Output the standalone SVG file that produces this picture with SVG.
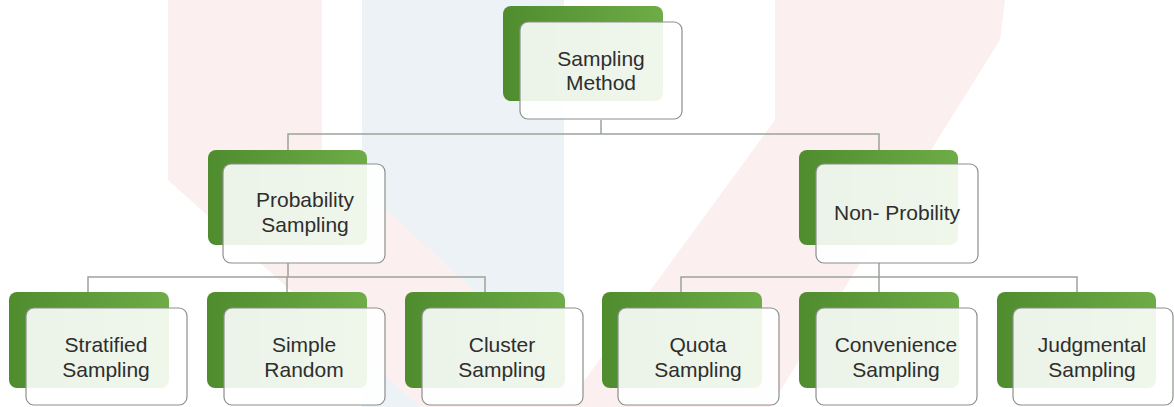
<svg xmlns="http://www.w3.org/2000/svg" width="1174" height="407" viewBox="0 0 1174 407">
<defs>
<linearGradient id="g" x1="0" y1="0" x2="1" y2="0">
<stop offset="0" stop-color="#4f8c2e"/>
<stop offset="1" stop-color="#6eac47"/>
</linearGradient>
</defs>
<style>
.back{fill:url(#g);}
.front{fill:#ffffff;fill-opacity:0.89;stroke:#8c8f8c;stroke-width:1.2;}
.t{font-family:"Liberation Sans",Arial,sans-serif;font-size:21px;fill:#2e2e2e;text-anchor:middle;}
.c{fill:none;stroke:#9aa49a;stroke-width:1.5;}
</style>
<g id="watermark">
<rect x="0" y="0" width="1174" height="407" fill="#ffffff"/>
<rect x="362" y="0" width="202" height="407" fill="#edf2f6"/>
<path d="M168,0 H322 V150 L600,407 H420 L168,180 Z" fill="#fcefef"/>
<path d="M775,0 H1005 L1000,40 L770,407 H565 L775,120 Z" fill="#fcefef"/>
</g>
<g id="connectors">
<path class="c" d="M601,120 V134 M288,150 V134 H879 V150"/>
<path class="c" d="M288,263 V277 M88,292 V277 H485 V292 M287,277 V292"/>
<path class="c" d="M879,263 V277 M681,292 V277 H1077 V292 M879,277 V292"/>
</g>
<g id="n-root">
<rect class="back" x="503" y="6" width="160" height="95" rx="8"/>
<rect class="front" x="520" y="22" width="162" height="97" rx="8"/>
<text class="t" x="601" y="66">Sampling</text>
<text class="t" x="601" y="90">Method</text>
</g>
<g id="n-prob">
<rect class="back" x="208" y="150" width="159" height="95" rx="8"/>
<rect class="front" x="223" y="164" width="162" height="99" rx="8"/>
<text class="t" x="305" y="207">Probability</text>
<text class="t" x="305" y="232">Sampling</text>
</g>
<g id="n-nonprob">
<rect class="back" x="799" y="150" width="159" height="95" rx="8"/>
<rect class="front" x="816" y="164" width="162" height="99" rx="8"/>
<text class="t" x="897" y="220">Non- Probility</text>
</g>
<g id="n-strat">
<rect class="back" x="9" y="292" width="160" height="96" rx="8"/>
<rect class="front" x="26" y="308" width="161" height="97" rx="8"/>
<text class="t" x="106" y="352">Stratified</text>
<text class="t" x="106" y="377">Sampling</text>
</g>
<g id="n-simple">
<rect class="back" x="207" y="292" width="160" height="96" rx="8"/>
<rect class="front" x="224" y="308" width="161" height="97" rx="8"/>
<text class="t" x="304" y="352">Simple</text>
<text class="t" x="304" y="377">Random</text>
</g>
<g id="n-cluster">
<rect class="back" x="405" y="292" width="160" height="96" rx="8"/>
<rect class="front" x="422" y="308" width="161" height="97" rx="8"/>
<text class="t" x="502" y="352">Cluster</text>
<text class="t" x="502" y="377">Sampling</text>
</g>
<g id="n-quota">
<rect class="back" x="602" y="292" width="160" height="96" rx="8"/>
<rect class="front" x="618" y="308" width="161" height="97" rx="8"/>
<text class="t" x="698" y="352">Quota</text>
<text class="t" x="698" y="377">Sampling</text>
</g>
<g id="n-conv">
<rect class="back" x="799" y="292" width="160" height="96" rx="8"/>
<rect class="front" x="816" y="308" width="161" height="97" rx="8"/>
<text class="t" x="896" y="352">Convenience</text>
<text class="t" x="896" y="377">Sampling</text>
</g>
<g id="n-judg">
<rect class="back" x="997" y="292" width="159" height="96" rx="8"/>
<rect class="front" x="1013" y="308" width="160" height="97" rx="8"/>
<text class="t" x="1092" y="352">Judgmental</text>
<text class="t" x="1092" y="377">Sampling</text>
</g>
</svg>
